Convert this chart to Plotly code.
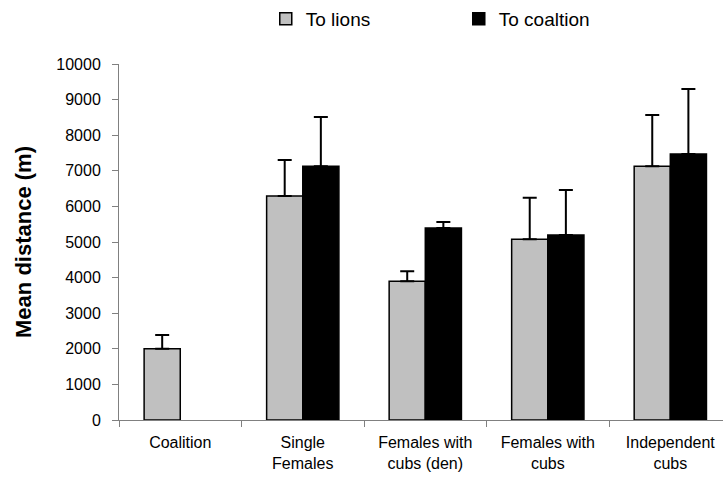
import plotly.graph_objects as go

categories = ["Coalition", "Single<br>Females", "Females with<br>cubs (den)", "Females with<br>cubs", "Independent<br>cubs"]
to_lions = [2000, 6290, 3900, 5080, 7130]
to_lions_err = [390, 1010, 280, 1160, 1440]
to_coalition = [None, 7130, 5390, 5200, 7470]
to_coalition_err = [0, 1380, 170, 1260, 1830]
y_ticks = list(range(0, 10001, 1000))
y_title = "Mean distance (m)"

FONT = "Arial, Liberation Sans, sans-serif"

fig = go.Figure()
fig.add_trace(go.Bar(
    name="To lions", x=categories, y=to_lions,
    marker=dict(color="#C0C0C0", line=dict(color="#000000", width=1.5)),
    error_y=dict(type="data", symmetric=False, array=to_lions_err,
                 arrayminus=[0]*5, color="#000000", thickness=2, width=7),
))
fig.add_trace(go.Bar(
    name="To coaltion", x=categories, y=to_coalition,
    marker=dict(color="#000000", line=dict(color="#000000", width=1.5)),
    error_y=dict(type="data", symmetric=False, array=to_coalition_err,
                 arrayminus=[0]*5, color="#000000", thickness=2, width=7),
))

fig.update_layout(
    width=723, height=477,
    margin=dict(l=119, r=0, t=64, b=57),
    paper_bgcolor="white", plot_bgcolor="white",
    barmode="group", bargap=0.41, bargroupgap=0,
    font=dict(family=FONT, size=16, color="#000000"),
    legend=dict(orientation="h", x=0.243, y=1.0, xanchor="left", yanchor="top",
                yref="container", font=dict(size=19), entrywidth=148,
                itemwidth=30, traceorder="normal"),
    showlegend=True,
)
fig.add_annotation(
    text="<b>" + y_title + "</b>", textangle=-90,
    xref="paper", yref="paper", x=-0.159, y=0.5,
    xanchor="center", yanchor="middle", showarrow=False,
    font=dict(size=22, family=FONT, color="#000000"),
)
fig.update_xaxes(
    type="category", range=[-0.5, 4.43], tickson="boundaries",
    ticks="outside", ticklen=6, tickcolor="#808080", tickwidth=1,
    showline=True, linecolor="#808080", linewidth=1,
    showgrid=False, tickfont=dict(size=16, color="#000000"),
    ticklabelstandoff=8,
)
fig.update_yaxes(
    range=[0, 10000], tickvals=y_ticks, ticktext=[str(v) for v in y_ticks],
    ticks="outside", ticklen=6, tickcolor="#808080", tickwidth=1,
    showline=True, linecolor="#808080", linewidth=1, showgrid=False,
    zeroline=False, tickfont=dict(size=16), ticklabelstandoff=8,
)

fig.write_html("out.html")
